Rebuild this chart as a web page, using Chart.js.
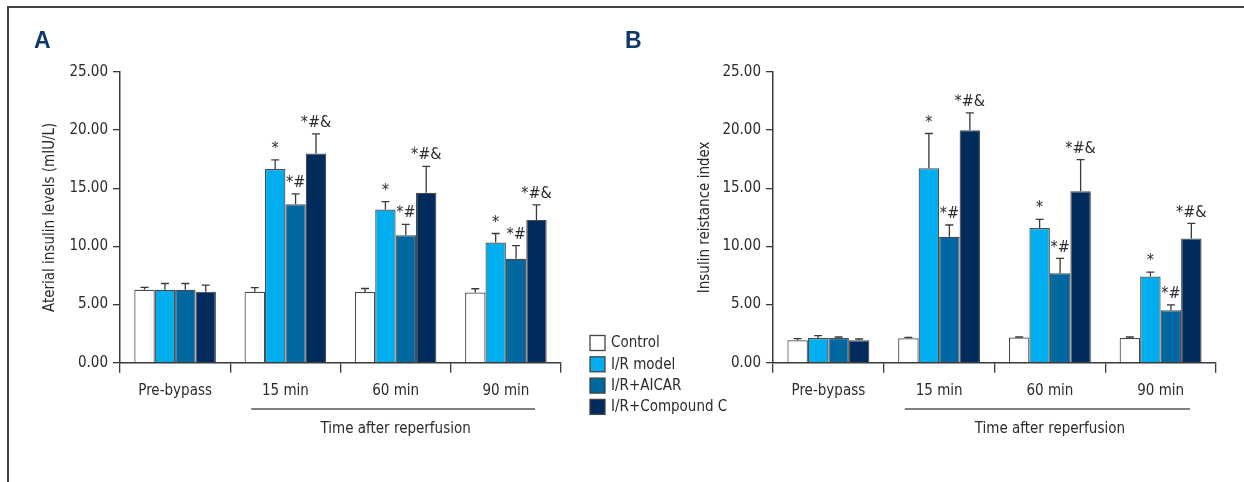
<!DOCTYPE html>
<html lang="en">
<head>
<meta charset="UTF-8">
<title>Insulin levels and insulin resistance index</title>
<script src="https://cdn.jsdelivr.net/npm/chart.js"></script>
<style>
  html, body { margin: 0; padding: 0; background: #fff; }
  body { width: 1244px; height: 482px; position: relative; overflow: hidden; }
  .frame { position: absolute; left: 7px; top: 6px; right: -10px; bottom: -10px;
           border-top: 2px solid #444; border-left: 2px solid #444; }
  #chartA { position: absolute; left: 0; top: 0; }
  #chartB { position: absolute; left: 560px; top: 0; }
</style>
</head>
<body>
<div class="frame"></div>
<canvas id="chartA" width="600" height="482"></canvas>
<canvas id="chartB" width="684" height="482"></canvas>

<script>
// categories and series
const categories = ['Pre-bypass', '15 min', '60 min', '90 min'];
const seriesNames = ['Control', 'I/R model', 'I/R+AICAR', 'I/R+Compound C'];
const seriesColors = ['#ffffff', '#00aeef', '#0068a0', '#002b5c'];
const xGroupTitle = 'Time after reperfusion';

// significance marks above bars
const marksControl = ['', '', '', ''];
const marksModel = ['', '*', '*', '*'];
const marksAicar = ['', '*#', '*#', '*#'];
const marksCompC = ['', '*#&', '*#&', '*#&'];

// panel A - arterial insulin levels (mIU/L)
const insulinControl = [6.27, 6.10, 6.08, 6.03];
const insulinModel = [6.27, 16.65, 13.18, 10.33];
const insulinAicar = [6.27, 13.62, 10.95, 8.93];
const insulinCompC = [6.11, 18.00, 14.62, 12.28];
const insulinControlErr = [0.20, 0.36, 0.30, 0.33];
const insulinModelErr = [0.54, 0.80, 0.68, 0.78];
const insulinAicarErr = [0.54, 0.90, 0.95, 1.14];
const insulinCompCErr = [0.56, 1.68, 2.27, 1.30];

// panel B - insulin resistance index
const resistControl = [1.93, 2.10, 2.16, 2.13];
const resistModel = [2.13, 16.72, 11.58, 7.41];
const resistAicar = [2.13, 10.83, 7.70, 4.51];
const resistCompC = [1.93, 20.00, 14.74, 10.69];
const resistControlErr = [0.14, 0.08, 0.05, 0.08];
const resistModelErr = [0.20, 2.99, 0.75, 0.38];
const resistAicarErr = [0.08, 1.01, 1.27, 0.46];
const resistCompCErr = [0.11, 1.49, 2.73, 1.29];

const FONT = "'Liberation Sans Narrow', 'DejaVu Sans Condensed', sans-serif";
const TEXT = '#2b2b2b';
const LINE = '#3a3a3a';

function makeDatasets(values, errors) {
    const marks = [marksControl, marksModel, marksAicar, marksCompC];
    return seriesNames.map((name, i) => ({
        label: name,
        data: values[i],
        errors: errors[i],
        marks: marks[i],
        backgroundColor: seriesColors[i],
        borderColor: '#4a4a4a',
        borderWidth: 1.2,
        categoryPercentage: 0.74,
        barPercentage: 1.0
    }));
}

// error bars, marks, group line, panel letter, legend
const panelExtras = {
    id: 'panelExtras',
    afterDatasetsDraw(chart, args, opts) {
        const ctx = chart.ctx;
        const xs = chart.scales.x, ys = chart.scales.y;
        ctx.save();

        chart.data.datasets.forEach((ds, i) => {
            const meta = chart.getDatasetMeta(i);
            meta.data.forEach((bar, j) => {
                const top = ys.getPixelForValue(ds.data[j] + ds.errors[j]);
                ctx.strokeStyle = LINE;
                ctx.lineWidth = 1.3;
                ctx.beginPath();
                ctx.moveTo(bar.x, bar.y);
                ctx.lineTo(bar.x, top);
                ctx.moveTo(bar.x - 4, top);
                ctx.lineTo(bar.x + 4, top);
                ctx.stroke();
                if (ds.marks[j]) {
                    ctx.fillStyle = TEXT;
                    ctx.font = '16px ' + FONT;
                    ctx.textAlign = 'center';
                    ctx.textBaseline = 'bottom';
                    ctx.fillText(ds.marks[j], bar.x, top - 3);
                }
            });
        });

        // line under the reperfusion time points + its title
        const cw = (xs.right - xs.left) / categories.length;
        ctx.strokeStyle = '#555';
        ctx.lineWidth = 1.5;
        ctx.beginPath();
        ctx.moveTo(xs.left + cw + 21, 409);
        ctx.lineTo(xs.right - 26, 409);
        ctx.stroke();
        ctx.fillStyle = TEXT;
        ctx.font = '15px ' + FONT;
        ctx.textAlign = 'center';
        ctx.textBaseline = 'middle';
        const mid = (xs.getPixelForValue(1) + xs.getPixelForValue(3)) / 2;
        ctx.fillText(xGroupTitle, mid, 429);

        // panel letter
        ctx.fillStyle = '#0d3868';
        ctx.font = "bold 23px 'Liberation Sans', sans-serif";
        ctx.textAlign = 'left';
        ctx.textBaseline = 'alphabetic';
        ctx.fillText(opts.letter, opts.letterX, 48);

        if (opts.legend) {
            chart.data.datasets.forEach((ds, i) => {
                const by = 335.5 + i * 21.3;
                ctx.fillStyle = ds.backgroundColor;
                ctx.fillRect(30, by, 15, 15);
                ctx.strokeStyle = '#444';
                ctx.lineWidth = 1.3;
                ctx.strokeRect(30, by, 15, 15);
                ctx.fillStyle = TEXT;
                ctx.font = '15px ' + FONT;
                ctx.textAlign = 'left';
                ctx.textBaseline = 'middle';
                ctx.fillText(ds.label, 51, by + 8);
            });
        }
        ctx.restore();
    }
};

function makeChart(id, values, errors, yTitle, axisWidth, rightPad, titleOffset, letter, letterX, legend) {
    const ctx = document.getElementById(id).getContext('2d');
    return new Chart(ctx, {
        type: 'bar',
        data: { labels: categories, datasets: makeDatasets(values, errors) },
        options: {
            responsive: false,
            animation: false,
            layout: { padding: { left: 0, top: 72, right: rightPad, bottom: 59.3 } },
            plugins: {
                legend: { display: false },
                tooltip: { enabled: false },
                panelExtras: { letter: letter, letterX: letterX, legend: legend }
            },
            scales: {
                x: {
                    afterFit: (s) => { s.height = 60; },
                    grid: { display: true, offset: true, drawOnChartArea: false, tickLength: 10, color: LINE, lineWidth: 1.3 },
                    border: { display: true, color: LINE, width: 1.5 },
                    ticks: { color: TEXT, font: { family: FONT, size: 15 }, padding: 9 }
                },
                y: {
                    min: 0,
                    max: 25,
                    afterFit: (s) => { s.width = axisWidth; },
                    grid: { display: true, drawOnChartArea: false, tickLength: 7, color: LINE, lineWidth: 1.3 },
                    border: { display: true, color: LINE, width: 1.5 },
                    ticks: {
                        stepSize: 5,
                        color: TEXT,
                        padding: 5,
                        font: { family: FONT, size: 15 },
                        callback: (v) => v.toFixed(2)
                    },
                    title: {
                        display: true,
                        text: yTitle,
                        color: TEXT,
                        font: { family: FONT, size: 15 },
                        padding: { top: titleOffset, bottom: 0 }
                    }
                }
            }
        },
        plugins: [panelExtras]
    });
}

makeChart('chartA',
    [insulinControl, insulinModel, insulinAicar, insulinCompC],
    [insulinControlErr, insulinModelErr, insulinAicarErr, insulinCompCErr],
    'Aterial insulin levels (mIU/L)', 120, 39, 41, 'A', 34, false);

makeChart('chartB',
    [resistControl, resistModel, resistAicar, resistCompC],
    [resistControlErr, resistModelErr, resistAicarErr, resistCompCErr],
    'Insulin reistance index', 213, 28, 136, 'B', 65, true);
</script>
</body>
</html>
